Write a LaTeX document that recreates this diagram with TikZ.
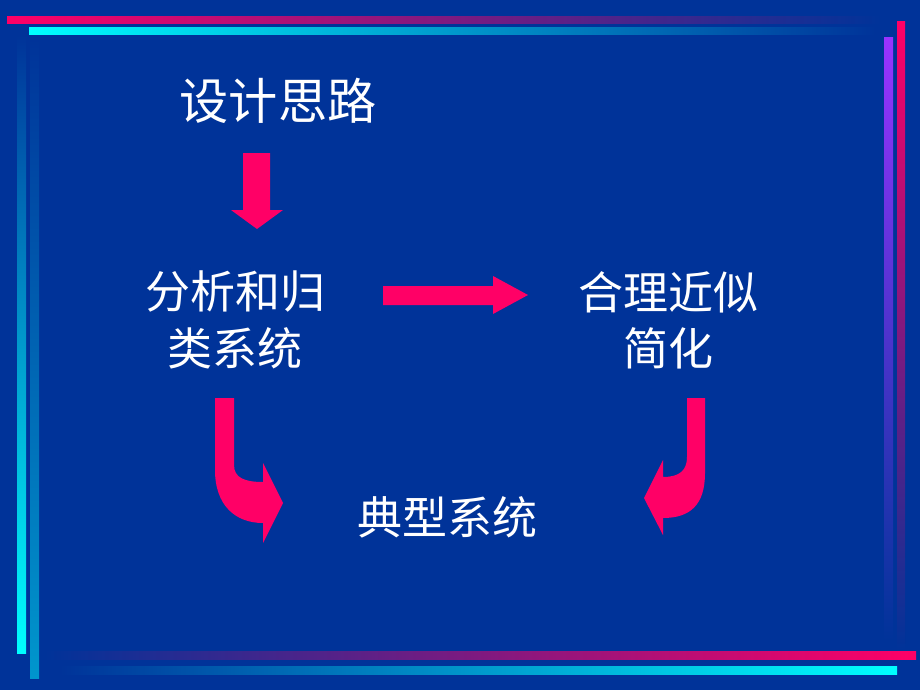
\documentclass[tikz,border=0pt]{standalone}
\usepackage{fontspec}
\newfontfamily\cjk{Noto Sans CJK SC}
\usepackage{tikz}
\usetikzlibrary{positioning}

\definecolor{slidebg}{RGB}{0,51,153}
\definecolor{arrowpink}{RGB}{255,0,102}
\definecolor{barcyan}{RGB}{0,255,255}
\definecolor{barteal}{RGB}{0,150,205}
\definecolor{barpurple}{RGB}{153,51,255}

\tikzset{
  label/.style={text=white, font=\cjk\fontsize{32}{40}\selectfont, align=center, inner sep=0pt},
  blockarrow/.style={fill=arrowpink, draw=none}
}

\begin{document}
\begin{tikzpicture}[x=0.025cm, y=-0.025cm]
            \fill[slidebg] (0,0) rectangle (920,690);
            \useasboundingbox (0,0) rectangle (920,690);
            % frame bars
            \shade[left color=arrowpink, middle color=arrowpink!65!slidebg, right color=slidebg] (7,17) rectangle (880,24);
            \shade[left color=barcyan, middle color=barcyan!60!slidebg, right color=slidebg] (29,28) rectangle (876,35);
            \shade[top color=slidebg, middle color=barcyan!55!slidebg, bottom color=barcyan] (17,35) rectangle (26,653);
            \shade[top color=slidebg, middle color=barteal!60!slidebg, bottom color=barteal] (30,38) rectangle (39,678);
            \shade[top color=arrowpink, middle color=arrowpink!60!slidebg, bottom color=slidebg] (897,22) rectangle (905,650);
            \shade[top color=barpurple, middle color=barpurple!60!slidebg, bottom color=slidebg] (884,38) rectangle (893,640);
            \shade[left color=slidebg, middle color=arrowpink!65!slidebg, right color=arrowpink] (45,651) rectangle (916,659);
            \shade[left color=slidebg, middle color=barcyan!60!slidebg, right color=barcyan] (60,666) rectangle (897,674);

            \node[label, font=\cjk\fontsize{35}{40}\selectfont] (idea) at (278,101) {设计思路};
            \node[label] (classify) at (235,320) {分析和归\\类系统};
            \node[label] (simplify) at (668,320) {合理近似\\简化};
            \node[label] (typical) at (447,517) {典型系统};

            \fill[blockarrow] (243,153) -- (270,153) -- (270,210) -- (283,210) -- (257,229)
                -- (231,210) -- (243,210) -- cycle;
            \fill[blockarrow] (383,286) -- (493,286) -- (493,276) -- (528,295) -- (493,314)
                -- (493,305) -- (383,305) -- cycle;
            \fill[blockarrow] (215,398) -- (234,398) -- (234,465) .. controls (234,478) and (245,482) .. (263,482)
                -- (263,463) -- (283,503) -- (263,543) -- (263,523)
                .. controls (235,523) and (215,505) .. (215,470) -- cycle;
            \fill[blockarrow] (687,398) -- (705,398) -- (705,473) .. controls (705,505) and (690,518) .. (663,518)
                -- (663,535) -- (644,498) -- (663,460) -- (663,477)
                .. controls (680,477) and (687,470) .. (687,457) -- cycle;
        \end{tikzpicture}
\end{document}
